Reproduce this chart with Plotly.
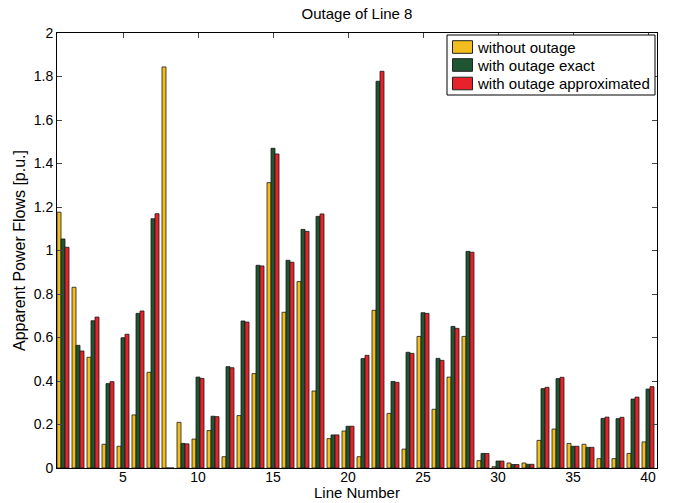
import plotly.graph_objects as go

lines = list(range(1, 41))
without_outage = [1.176, 0.831, 0.509, 0.109, 0.100, 0.244, 0.440, 1.844, 0.210, 0.133,
                  0.172, 0.052, 0.241, 0.434, 1.312, 0.716, 0.857, 0.354, 0.135, 0.170,
                  0.052, 0.725, 0.251, 0.087, 0.605, 0.270, 0.418, 0.605, 0.034, 0.006,
                  0.023, 0.023, 0.127, 0.179, 0.113, 0.109, 0.043, 0.043, 0.067, 0.120]
with_exact = [1.053, 0.564, 0.677, 0.388, 0.599, 0.711, 1.146, 0.0, 0.113, 0.418,
              0.238, 0.466, 0.676, 0.932, 1.470, 0.955, 1.097, 1.157, 0.152, 0.192,
              0.503, 1.778, 0.398, 0.532, 0.714, 0.504, 0.651, 0.996, 0.067, 0.032,
              0.016, 0.017, 0.365, 0.411, 0.100, 0.095, 0.228, 0.227, 0.317, 0.363]
with_approx = [1.015, 0.538, 0.694, 0.397, 0.615, 0.722, 1.169, 0.0, 0.111, 0.412,
               0.236, 0.461, 0.671, 0.929, 1.444, 0.946, 1.088, 1.168, 0.152, 0.192,
               0.518, 1.824, 0.394, 0.527, 0.711, 0.495, 0.642, 0.992, 0.067, 0.032,
               0.016, 0.017, 0.371, 0.417, 0.100, 0.095, 0.234, 0.233, 0.326, 0.374]

series_names = ["without outage", "with outage exact", "with outage approximated"]
series_values = [without_outage, with_exact, with_approx]
series_colors = ["#F2BE1D", "#1F5530", "#E8222A"]
x_ticks = [5, 10, 15, 20, 25, 30, 35, 40]
y_ticks = [0, 0.2, 0.4, 0.6, 0.8, 1, 1.2, 1.4, 1.6, 1.8, 2]
y_tick_labels = ["0", "0.2", "0.4", "0.6", "0.8", "1", "1.2", "1.4", "1.6", "1.8", "2"]

W, H = 674, 503
ML, MR, MT, MB = 57, 17, 33, 35
PW, PH = W - ML - MR, H - MT - MB


def px_x(px):
    return (px - ML) / PW


def px_y(py):
    return (H - MB - py) / PH


fig = go.Figure()
for name, vals, col in zip(series_names, series_values, series_colors):
    fig.add_trace(go.Bar(x=lines, y=vals, name=name, showlegend=False,
                         marker=dict(color=col, line=dict(color="#1a1a1a", width=0.8))))

# custom legend (box, colour swatches, labels)
shapes = [dict(type="rect", xref="paper", yref="paper",
               x0=px_x(447), x1=px_x(655), y0=px_y(95), y1=px_y(35),
               line=dict(color="black", width=1), fillcolor="white", layer="above")]
annotations = []
row_centers = [47, 65, 83.5]
for name, col, cy in zip(series_names, series_colors, row_centers):
    shapes.append(dict(type="rect", xref="paper", yref="paper",
                       x0=px_x(452.5), x1=px_x(472.5), y0=px_y(cy + 6.3), y1=px_y(cy - 6.3),
                       line=dict(color="#222222", width=1), fillcolor=col, layer="above"))
    annotations.append(dict(xref="paper", yref="paper", x=px_x(474.5), y=px_y(cy),
                            xanchor="left", yanchor="middle", text=name, showarrow=False,
                            font=dict(size=15, color="black")))

# x axis title placed just under the tick labels
annotations.append(dict(xref="paper", yref="paper", x=0.5, y=px_y(503),
                        xanchor="center", yanchor="bottom", text="Line Number",
                        showarrow=False, font=dict(size=15, color="black")))

font_family = "Liberation Sans, Arial, sans-serif"
fig.update_layout(
    width=W, height=H,
    margin=dict(l=ML, r=MR, t=MT, b=MB),
    paper_bgcolor="white", plot_bgcolor="white",
    barmode="group", bargap=0.2, bargroupgap=0,
    font=dict(family=font_family, size=14, color="black"),
    title=dict(text="Outage of Line 8", x=0.5, xanchor="center", xref="paper",
               y=1 - 14 / H, yanchor="middle", font=dict(size=15)),
    showlegend=False,
    shapes=shapes,
    annotations=annotations,
    xaxis=dict(range=[0.6, 40.6], tickvals=x_ticks,
               ticks="inside", ticklen=5, mirror="ticks", showline=True,
               linecolor="black", linewidth=1, showgrid=False, zeroline=False,
               automargin=False, tickfont=dict(size=14), ticklabelstandoff=-4),
    yaxis=dict(range=[0, 2], tickvals=y_ticks, ticktext=y_tick_labels,
               ticks="inside", ticklen=5, mirror="ticks", showline=True,
               linecolor="black", linewidth=1, showgrid=False, zeroline=False,
               automargin=False, tickfont=dict(size=14),
               title=dict(text="Apparent Power Flows [p.u.]", standoff=4, font=dict(size=16))),
)

fig.write_html("out.html")
